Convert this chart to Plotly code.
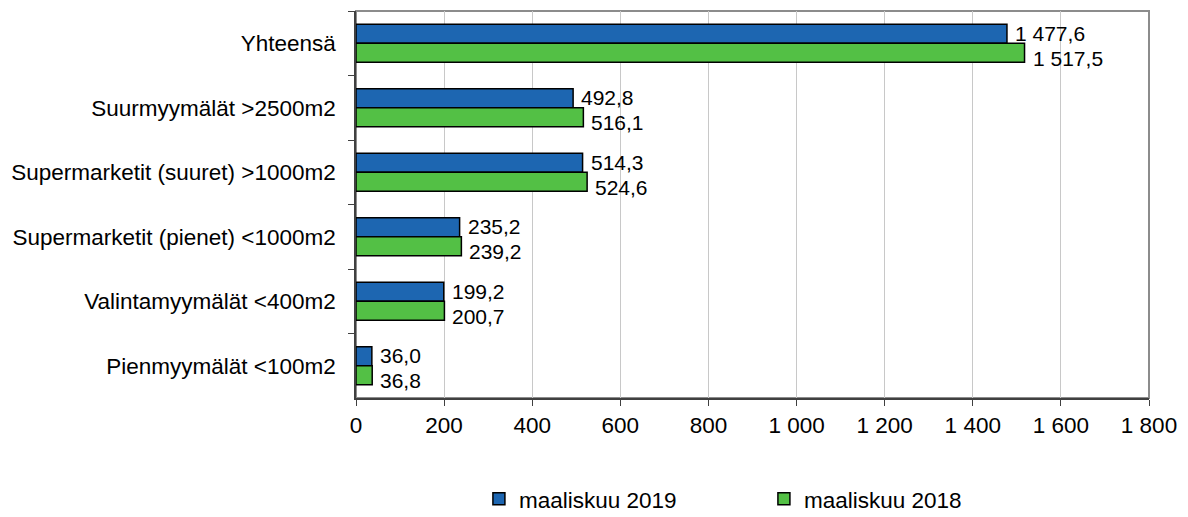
import plotly.graph_objects as go

categories = [
    "Yhteensä",
    "Suurmyymälät >2500m2",
    "Supermarketit (suuret) >1000m2",
    "Supermarketit (pienet) <1000m2",
    "Valintamyymälät <400m2",
    "Pienmyymälät <100m2",
]
values_2019 = [1477.6, 492.8, 514.3, 235.2, 199.2, 36.0]
values_2018 = [1517.5, 516.1, 524.6, 239.2, 200.7, 36.8]
series_names = ["maaliskuu 2019", "maaliskuu 2018"]
x_ticks = [0, 200, 400, 600, 800, 1000, 1200, 1400, 1600, 1800]

FONT = "Liberation Sans, Arial, sans-serif"
FS = 22.5
LABEL_FS = 21


def fi(v):
    return f"{v:,.1f}".replace(",", " ").replace(".", ",")


fig = go.Figure()
annotations = []
for name, vals, color, yshift in [
    (series_names[0], values_2019, "#1D66B1", 10),
    (series_names[1], values_2018, "#53C045", -15),
]:
    fig.add_trace(go.Bar(
        y=categories, x=vals, name=name, orientation="h",
        marker=dict(color=color, line=dict(color="black", width=1.5)),
        cliponaxis=False,
    ))
    for cat, v in zip(categories, vals):
        annotations.append(dict(
            x=v, y=cat, xref="x", yref="y", text=fi(v), showarrow=False,
            xanchor="left", yanchor="middle", xshift=6, yshift=yshift,
            font=dict(family=FONT, size=LABEL_FS, color="black"),
        ))

# page body has an 8px margin, so the figure is sized/offset to compensate
fig.update_layout(
    width=1180, height=509,
    margin=dict(l=348, r=39, t=3, b=119),
    paper_bgcolor="white", plot_bgcolor="white",
    separators=", ",
    barmode="group", bargap=0.41, bargroupgap=0,
    font=dict(family=FONT, size=FS, color="black"),
    showlegend=True,
    legend=dict(orientation="h", x=0.155, y=0.035, xanchor="left", yanchor="middle",
                yref="container",
                entrywidth=240, entrywidthmode="pixels",
                font=dict(family=FONT, size=FS, color="black")),
    xaxis=dict(range=[0, 1800], tickvals=x_ticks, tickformat=",d",
               showgrid=True, gridcolor="#C8C8C8", gridwidth=1,
               showline=True, linecolor="#404040", linewidth=1.5,
               ticks="outside", ticklen=6, tickcolor="#404040",
               zeroline=False, fixedrange=True, automargin=False),
    yaxis=dict(autorange="reversed", showline=True, linecolor="#404040", linewidth=1.5,
               ticks="outside", tickson="boundaries", ticklen=6, tickcolor="#404040",
               showgrid=False, ticklabelstandoff=14, fixedrange=True, automargin=False),
    annotations=annotations,
    shapes=[dict(type="rect", xref="paper", yref="paper", x0=0, x1=1, y0=0, y1=1,
                 line=dict(color="#8C8C8C", width=2), layer="below")],
)

fig.write_html("out.html")
